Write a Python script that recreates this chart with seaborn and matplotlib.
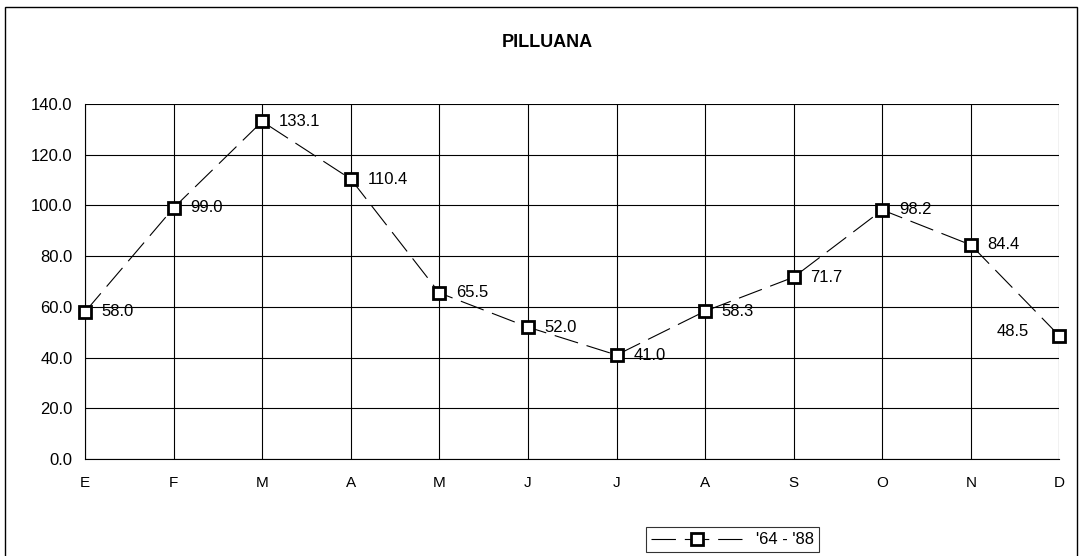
import seaborn as sns
import matplotlib.pyplot as plt
from matplotlib.patches import Rectangle

months = ["E", "F", "M", "A", "M", "J", "J", "A", "S", "O", "N", "D"]
values = [58.0, 99.0, 133.1, 110.4, 65.5, 52.0, 41.0, 58.3, 71.7, 98.2, 84.4, 48.5]
series_name = "'64 - '88"
pos = list(range(len(months)))

sns.set_style("white")
plt.rcParams['font.family'] = ['Liberation Sans', 'DejaVu Sans']
plt.rcParams['text.color'] = 'black'
plt.rcParams['xtick.color'] = 'black'
plt.rcParams['ytick.color'] = 'black'

fig = plt.figure(figsize=(10.8, 5.56), dpi=100)
ax = fig.add_axes([0.0787, 0.1745, 0.9023, 0.6385])

sns.lineplot(x=pos, y=values, ax=ax, color="black", lw=0.8,
             linestyle=(0, (22, 8)), marker="s", markersize=9,
             markerfacecolor="white", markeredgecolor="black",
             markeredgewidth=2, label=series_name, zorder=3, clip_on=False)

for i, v in enumerate(values):
    if i == len(values) - 1:
        ax.annotate(f"{v:.1f}", (i, v), xytext=(-22, 3), textcoords="offset points",
                    ha="right", va="center", fontsize=12)
    else:
        ax.annotate(f"{v:.1f}", (i, v), xytext=(12, 0), textcoords="offset points",
                    ha="left", va="center", fontsize=12)

ax.set_xlim(0, 11)
ax.set_ylim(0, 140)
ax.set_yticks(range(0, 141, 20))
ax.set_yticklabels([f"{t:.1f}" for t in range(0, 141, 20)], fontsize=12)
ax.set_xticks(pos)
ax.set_xticklabels(months, fontsize=11)
ax.grid(True, color="black", lw=0.8)
for s in ["top", "right"]:
    ax.spines[s].set_visible(False)
for s in ["left", "bottom"]:
    ax.spines[s].set_color("black")
    ax.spines[s].set_linewidth(0.8)
ax.tick_params(axis="both", direction="out", length=4, width=0.8, color="black")
ax.tick_params(axis="x", pad=8)
ax.tick_params(axis="y", pad=5)

fig.text(0.507, 0.924, "PILLUANA", ha="center", va="center", fontsize=13, fontweight="bold")

leg = ax.legend(loc="center", bbox_to_anchor=(0.678, 0.029), bbox_transform=fig.transFigure,
                frameon=True, fancybox=False, fontsize=12, handlelength=5.5,
                borderpad=0.3, edgecolor="black")
leg.get_frame().set_linewidth(0.8)

fig.patches.append(Rectangle((5 / 1080, -0.01), 1072 / 1080, 549 / 556 + 0.01,
                             transform=fig.transFigure, fill=False, lw=1, edgecolor="black"))

fig.savefig("out.png", dpi=100)
plt.close(fig)
